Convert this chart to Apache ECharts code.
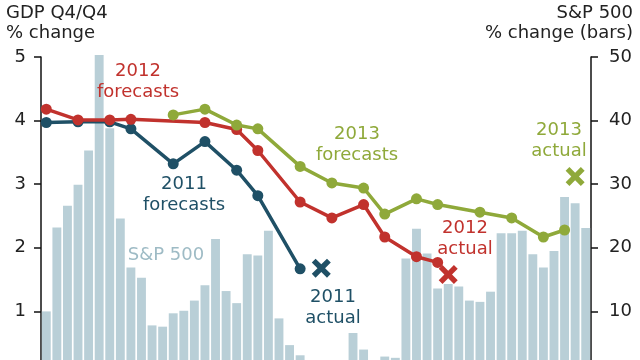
<!DOCTYPE html>
<html>
<head>
<meta charset="utf-8">
<script src="https://cdn.jsdelivr.net/npm/echarts@6/dist/echarts.min.js"></script>
<style>
html,body{margin:0;padding:0;background:#fff;overflow:hidden;}
#c{width:640px;height:400px;}
</style>
</head>
<body>
<div id="c"></div>
<script>
// S&P 500 % change (bars), 52 monthly categories
const months = Array.from({length: 52}, (_, i) => 'M' + (i + 1));
const sp500 = [10.0,23.2,26.6,29.9,35.3,50.3,38.8,24.6,16.9,15.3,
               7.8,7.6,9.7,10.1,11.7,14.1,21.4,13.2,11.3,19.0,
               18.8,22.7,8.9,4.7,3.1,1.5,0.8,0.5,1.0,6.6,
               4.0,1.5,2.9,2.7,18.3,23.0,19.1,13.6,14.3,13.9,
               11.7,11.5,13.1,22.3,22.3,22.7,19.0,16.9,19.5,28.0,
               27.0,23.1];

// GDP forecasts (month index, value)
const fc2011Idx = [0,3,6,8,12,15,18,20,24];
const fc2011Val = [3.97,3.98,3.98,3.87,3.32,3.67,3.22,2.82,1.67];
const fc2012Idx = [0,3,6,8,15,18,20,24,27,30,32,35,37];
const fc2012Val = [4.18,4.01,4.01,4.02,3.97,3.86,3.53,2.72,2.47,2.68,2.17,1.86,1.77];
const fc2013Idx = [12,15,18,20,24,27,30,32,35,37,41,44,47,49];
const fc2013Val = [4.09,4.18,3.93,3.87,3.28,3.02,2.94,2.53,2.77,2.68,2.56,2.47,2.17,2.28];

// Actuals (month index, value)
const act2011 = [26, 1.68];
const act2012 = [38, 1.58];
const act2013 = [50, 3.12];

const leftTicks = [0,1,2,3,4,5];
const rightTicks = [0,10,20,30,40,50];

const BLUE = '#1f5066', RED = '#c1322d', GREEN = '#8fa93a', BAR = '#b9cfd7', SPTXT = '#9ebbc5';
const FONT = '"DejaVu Sans", Verdana, sans-serif';
const XPATH = 'path://M0,20 L20,0 L50,30 L80,0 L100,20 L70,50 L100,80 L80,100 L50,70 L20,100 L0,80 L30,50 Z';

const pairs = (ix, vs) => ix.map((x, i) => [x, vs[i]]);

function lineSeries(name, data, color, z) {
  return {
    name, type: 'line', data, yAxisIndex: 0, z,
    symbol: 'circle', symbolSize: 11, showSymbol: true, showAllSymbol: true,
    lineStyle: {color, width: 3.5},
    itemStyle: {color, opacity: 1},
    animation: false
  };
}
function xSeries(name, pt, color) {
  return {
    name, type: 'scatter', data: [pt], yAxisIndex: 0, z: 10,
    symbol: XPATH, symbolSize: 19,
    itemStyle: {color, opacity: 1}, animation: false
  };
}

const chart = echarts.init(document.getElementById('c'), null, {renderer: 'canvas'});
const txt = (text, x, y, color, align) => ({
  type: 'text', x, y, z: 100,
  style: {text, fill: color, font: '18px ' + FONT, textAlign: align || 'center', textVerticalAlign: 'middle', lineHeight: 21}
});

chart.setOption({
  backgroundColor: '#fff',
  animation: false,
  grid: {left: 41, right: 49, top: 57, bottom: 25},
  xAxis: {type: 'category', data: months, show: false, boundaryGap: true},
  yAxis: [
    {type: 'value', min: leftTicks[0], max: leftTicks[leftTicks.length-1], interval: 1, position: 'left',
     axisLine: {show: true, lineStyle: {color: '#111', width: 1.5}},
     axisTick: {show: true, length: 7, lineStyle: {color: '#111', width: 1.5}},
     axisLabel: {color: '#222', fontSize: 18, fontFamily: FONT, margin: 15},
     splitLine: {show: false}},
    {type: 'value', min: rightTicks[0], max: rightTicks[rightTicks.length-1], interval: 10, position: 'right',
     axisLine: {show: true, lineStyle: {color: '#111', width: 1.5}},
     axisTick: {show: true, length: 7, lineStyle: {color: '#111', width: 1.5}},
     axisLabel: {color: '#222', fontSize: 18, fontFamily: FONT, margin: 18},
     splitLine: {show: false}}
  ],
  series: [
    {name: 'S&P 500', type: 'bar', data: sp500, yAxisIndex: 1, barCategoryGap: '16%',
     itemStyle: {color: BAR}, clip: false, z: 1, animation: false},
    lineSeries('2011 forecasts', pairs(fc2011Idx, fc2011Val), BLUE, 3),
    lineSeries('2012 forecasts', pairs(fc2012Idx, fc2012Val), RED, 4),
    lineSeries('2013 forecasts', pairs(fc2013Idx, fc2013Val), GREEN, 5),
    xSeries('2011 actual', act2011, BLUE),
    xSeries('2012 actual', act2012, RED),
    xSeries('2013 actual', act2013, GREEN)
  ],
  graphic: [
    txt('GDP Q4/Q4', 6, 13, '#222', 'left'),
    txt('% change', 6, 33, '#222', 'left'),
    txt('S&P 500', 633, 13, '#222', 'right'),
    txt('% change (bars)', 633, 33, '#222', 'right'),
    txt('2012\nforecasts', 138, 82, RED),
    txt('2011\nforecasts', 184, 195, BLUE),
    txt('2013\nforecasts', 357, 145, GREEN),
    txt('2011\nactual', 333, 308, BLUE),
    txt('2012\nactual', 465, 239, RED),
    txt('2013\nactual', 559, 141, GREEN),
    txt('S&P 500', 166, 255, SPTXT)
  ]
});
</script>
</body>
</html>
